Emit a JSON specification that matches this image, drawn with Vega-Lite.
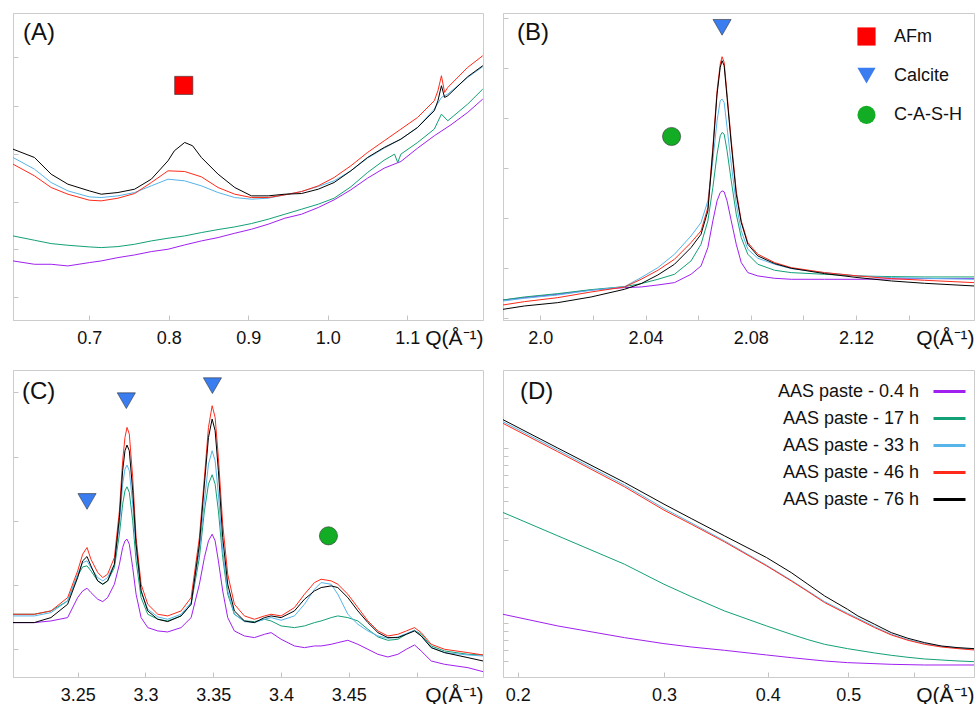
{
"$schema":"https://vega.github.io/schema/vega-lite/v6.json",
"padding":{"left":12,"top":12,"right":0,"bottom":0},
"config":{
"font":"Liberation Sans",
"view":{"stroke":"#cccccc","strokeWidth":1},
"axis":{"domainColor":"#cccccc","tickColor":"#c4c4c4","tickSize":-5,"grid":false,"labelFont":"Liberation Sans","labelFontSize":18,"labelColor":"#111111","labelFlush":false,"labelPadding":14,"titleFont":"Liberation Sans","titleFontSize":21,"titleFontWeight":"normal","titleColor":"#111111"},
"axisY":{"labels":false,"title":null},
"title":{"font":"Liberation Sans","fontSize":24,"fontWeight":"normal","color":"#111111","anchor":"start","frame":"group","baseline":"alphabetic"},
"legend":{"labelFont":"Liberation Sans","labelFontSize":18,"labelColor":"#111111","padding":0}
},
"datasets":{
"A":[
{"s":"0.4 h","q":0.604,"i":177},{"s":"0.4 h","q":0.631,"i":167},{"s":"0.4 h","q":0.652,"i":167},{"s":"0.4 h","q":0.673,"i":162},{"s":"0.4 h","q":0.7,"i":172},{"s":"0.4 h","q":0.715,"i":177},{"s":"0.4 h","q":0.736,"i":187},{"s":"0.4 h","q":0.757,"i":195},{"s":"0.4 h","q":0.778,"i":205},{"s":"0.4 h","q":0.799,"i":212},{"s":"0.4 h","q":0.82,"i":225},{"s":"0.4 h","q":0.841,"i":237},{"s":"0.4 h","q":0.862,"i":247},{"s":"0.4 h","q":0.883,"i":260},{"s":"0.4 h","q":0.904,"i":272},{"s":"0.4 h","q":0.925,"i":287},{"s":"0.4 h","q":0.946,"i":305},{"s":"0.4 h","q":0.967,"i":317},{"s":"0.4 h","q":0.988,"i":337},{"s":"0.4 h","q":1.008,"i":360},{"s":"0.4 h","q":1.029,"i":390},{"s":"0.4 h","q":1.05,"i":425},{"s":"0.4 h","q":1.071,"i":455},{"s":"0.4 h","q":1.092,"i":475},{"s":"0.4 h","q":1.113,"i":515},{"s":"0.4 h","q":1.134,"i":552},{"s":"0.4 h","q":1.155,"i":585},{"s":"0.4 h","q":1.176,"i":622},{"s":"0.4 h","q":1.195,"i":662},
{"s":"17 h","q":0.604,"i":252},{"s":"17 h","q":0.631,"i":239},{"s":"17 h","q":0.652,"i":229},{"s":"17 h","q":0.673,"i":224},{"s":"17 h","q":0.7,"i":219},{"s":"17 h","q":0.715,"i":217},{"s":"17 h","q":0.736,"i":220},{"s":"17 h","q":0.757,"i":227},{"s":"17 h","q":0.778,"i":237},{"s":"17 h","q":0.799,"i":245},{"s":"17 h","q":0.82,"i":252},{"s":"17 h","q":0.841,"i":262},{"s":"17 h","q":0.862,"i":271},{"s":"17 h","q":0.883,"i":279},{"s":"17 h","q":0.904,"i":289},{"s":"17 h","q":0.925,"i":302},{"s":"17 h","q":0.946,"i":317},{"s":"17 h","q":0.967,"i":332},{"s":"17 h","q":0.988,"i":347},{"s":"17 h","q":1.008,"i":365},{"s":"17 h","q":1.029,"i":399},{"s":"17 h","q":1.05,"i":442},{"s":"17 h","q":1.071,"i":479},{"s":"17 h","q":1.084,"i":497},{"s":"17 h","q":1.088,"i":472},{"s":"17 h","q":1.092,"i":497},{"s":"17 h","q":1.113,"i":532},{"s":"17 h","q":1.134,"i":572},{"s":"17 h","q":1.143,"i":617},{"s":"17 h","q":1.151,"i":597},{"s":"17 h","q":1.176,"i":647},{"s":"17 h","q":1.195,"i":692},
{"s":"33 h","q":0.604,"i":487},{"s":"33 h","q":0.631,"i":452},{"s":"33 h","q":0.652,"i":412},{"s":"33 h","q":0.673,"i":387},{"s":"33 h","q":0.7,"i":369},{"s":"33 h","q":0.715,"i":367},{"s":"33 h","q":0.736,"i":372},{"s":"33 h","q":0.757,"i":382},{"s":"33 h","q":0.778,"i":402},{"s":"33 h","q":0.799,"i":422},{"s":"33 h","q":0.82,"i":417},{"s":"33 h","q":0.841,"i":402},{"s":"33 h","q":0.862,"i":382},{"s":"33 h","q":0.883,"i":367},{"s":"33 h","q":0.904,"i":362},{"s":"33 h","q":0.925,"i":365},{"s":"33 h","q":0.946,"i":375},{"s":"33 h","q":0.967,"i":385},{"s":"33 h","q":0.988,"i":400},{"s":"33 h","q":1.008,"i":417},{"s":"33 h","q":1.029,"i":447},{"s":"33 h","q":1.05,"i":485},{"s":"33 h","q":1.071,"i":515},{"s":"33 h","q":1.092,"i":542},{"s":"33 h","q":1.113,"i":577},{"s":"33 h","q":1.134,"i":632},{"s":"33 h","q":1.143,"i":667},{"s":"33 h","q":1.151,"i":677},{"s":"33 h","q":1.176,"i":727},{"s":"33 h","q":1.195,"i":759},
{"s":"46 h","q":0.604,"i":467},{"s":"46 h","q":0.631,"i":432},{"s":"46 h","q":0.652,"i":397},{"s":"46 h","q":0.673,"i":377},{"s":"46 h","q":0.7,"i":359},{"s":"46 h","q":0.715,"i":357},{"s":"46 h","q":0.736,"i":365},{"s":"46 h","q":0.757,"i":379},{"s":"46 h","q":0.778,"i":412},{"s":"46 h","q":0.799,"i":447},{"s":"46 h","q":0.82,"i":445},{"s":"46 h","q":0.841,"i":429},{"s":"46 h","q":0.862,"i":397},{"s":"46 h","q":0.883,"i":377},{"s":"46 h","q":0.904,"i":367},{"s":"46 h","q":0.925,"i":367},{"s":"46 h","q":0.946,"i":375},{"s":"46 h","q":0.967,"i":385},{"s":"46 h","q":0.988,"i":402},{"s":"46 h","q":1.008,"i":427},{"s":"46 h","q":1.029,"i":462},{"s":"46 h","q":1.05,"i":502},{"s":"46 h","q":1.071,"i":537},{"s":"46 h","q":1.092,"i":572},{"s":"46 h","q":1.113,"i":607},{"s":"46 h","q":1.134,"i":657},{"s":"46 h","q":1.1386,"i":687},{"s":"46 h","q":1.143,"i":732},{"s":"46 h","q":1.147,"i":682},{"s":"46 h","q":1.151,"i":697},{"s":"46 h","q":1.176,"i":757},{"s":"46 h","q":1.195,"i":792},
{"s":"76 h","q":0.604,"i":512},{"s":"76 h","q":0.631,"i":487},{"s":"76 h","q":0.652,"i":437},{"s":"76 h","q":0.673,"i":407},{"s":"76 h","q":0.7,"i":387},{"s":"76 h","q":0.715,"i":377},{"s":"76 h","q":0.736,"i":382},{"s":"76 h","q":0.757,"i":392},{"s":"76 h","q":0.778,"i":422},{"s":"76 h","q":0.799,"i":477},{"s":"76 h","q":0.807,"i":507},{"s":"76 h","q":0.82,"i":532},{"s":"76 h","q":0.83,"i":522},{"s":"76 h","q":0.841,"i":487},{"s":"76 h","q":0.862,"i":437},{"s":"76 h","q":0.883,"i":397},{"s":"76 h","q":0.904,"i":372},{"s":"76 h","q":0.925,"i":372},{"s":"76 h","q":0.946,"i":377},{"s":"76 h","q":0.967,"i":379},{"s":"76 h","q":0.988,"i":392},{"s":"76 h","q":1.008,"i":412},{"s":"76 h","q":1.029,"i":447},{"s":"76 h","q":1.05,"i":487},{"s":"76 h","q":1.071,"i":517},{"s":"76 h","q":1.092,"i":542},{"s":"76 h","q":1.113,"i":577},{"s":"76 h","q":1.134,"i":627},{"s":"76 h","q":1.1386,"i":657},{"s":"76 h","q":1.143,"i":702},{"s":"76 h","q":1.147,"i":667},{"s":"76 h","q":1.151,"i":672},{"s":"76 h","q":1.176,"i":729},{"s":"76 h","q":1.195,"i":762}
],
"B":[
{"s":"0.4 h","q":1.9858,"i":60},{"s":"0.4 h","q":1.9939,"i":67},{"s":"0.4 h","q":2.0066,"i":77},{"s":"0.4 h","q":2.0193,"i":90},{"s":"0.4 h","q":2.032,"i":97},{"s":"0.4 h","q":2.0383,"i":99},{"s":"0.4 h","q":2.0447,"i":105},{"s":"0.4 h","q":2.051,"i":112},{"s":"0.4 h","q":2.0573,"i":137},{"s":"0.4 h","q":2.0611,"i":162},{"s":"0.4 h","q":2.0637,"i":217},{"s":"0.4 h","q":2.0656,"i":297},{"s":"0.4 h","q":2.0672,"i":357},{"s":"0.4 h","q":2.0684,"i":382},{"s":"0.4 h","q":2.0691,"i":387},{"s":"0.4 h","q":2.0699,"i":384},{"s":"0.4 h","q":2.071,"i":357},{"s":"0.4 h","q":2.0726,"i":297},{"s":"0.4 h","q":2.0745,"i":227},{"s":"0.4 h","q":2.0764,"i":172},{"s":"0.4 h","q":2.0789,"i":142},{"s":"0.4 h","q":2.0827,"i":132},{"s":"0.4 h","q":2.0891,"i":125},{"s":"0.4 h","q":2.0954,"i":122},{"s":"0.4 h","q":2.1081,"i":122},{"s":"0.4 h","q":2.1208,"i":122},{"s":"0.4 h","q":2.1335,"i":123},{"s":"0.4 h","q":2.1461,"i":124},{"s":"0.4 h","q":2.1649,"i":124},
{"s":"17 h","q":1.9858,"i":60},{"s":"17 h","q":1.9939,"i":69},{"s":"17 h","q":2.0066,"i":79},{"s":"17 h","q":2.0193,"i":91},{"s":"17 h","q":2.032,"i":100},{"s":"17 h","q":2.0383,"i":109},{"s":"17 h","q":2.0447,"i":122},{"s":"17 h","q":2.051,"i":137},{"s":"17 h","q":2.0573,"i":177},{"s":"17 h","q":2.0611,"i":227},{"s":"17 h","q":2.0637,"i":297},{"s":"17 h","q":2.0656,"i":397},{"s":"17 h","q":2.0672,"i":497},{"s":"17 h","q":2.0684,"i":552},{"s":"17 h","q":2.0691,"i":562},{"s":"17 h","q":2.0699,"i":557},{"s":"17 h","q":2.071,"i":507},{"s":"17 h","q":2.0726,"i":417},{"s":"17 h","q":2.0745,"i":317},{"s":"17 h","q":2.0764,"i":247},{"s":"17 h","q":2.0789,"i":197},{"s":"17 h","q":2.0827,"i":167},{"s":"17 h","q":2.0891,"i":149},{"s":"17 h","q":2.0954,"i":142},{"s":"17 h","q":2.1081,"i":137},{"s":"17 h","q":2.1208,"i":132},{"s":"17 h","q":2.1335,"i":130},{"s":"17 h","q":2.1461,"i":129},{"s":"17 h","q":2.1649,"i":129},
{"s":"33 h","q":1.9858,"i":57},{"s":"33 h","q":1.9939,"i":65},{"s":"33 h","q":2.0066,"i":75},{"s":"33 h","q":2.0193,"i":89},{"s":"33 h","q":2.032,"i":100},{"s":"33 h","q":2.0383,"i":127},{"s":"33 h","q":2.0447,"i":157},{"s":"33 h","q":2.051,"i":197},{"s":"33 h","q":2.0573,"i":252},{"s":"33 h","q":2.0611,"i":292},{"s":"33 h","q":2.0637,"i":357},{"s":"33 h","q":2.0656,"i":477},{"s":"33 h","q":2.0672,"i":597},{"s":"33 h","q":2.0684,"i":657},{"s":"33 h","q":2.0691,"i":662},{"s":"33 h","q":2.0699,"i":652},{"s":"33 h","q":2.071,"i":577},{"s":"33 h","q":2.0726,"i":467},{"s":"33 h","q":2.0745,"i":347},{"s":"33 h","q":2.0764,"i":267},{"s":"33 h","q":2.0789,"i":212},{"s":"33 h","q":2.0827,"i":185},{"s":"33 h","q":2.0891,"i":167},{"s":"33 h","q":2.0954,"i":154},{"s":"33 h","q":2.1081,"i":142},{"s":"33 h","q":2.1208,"i":132},{"s":"33 h","q":2.1335,"i":127},{"s":"33 h","q":2.1461,"i":125},{"s":"33 h","q":2.1649,"i":122},
{"s":"46 h","q":1.9858,"i":45},{"s":"46 h","q":1.9939,"i":55},{"s":"46 h","q":2.0066,"i":67},{"s":"46 h","q":2.0193,"i":84},{"s":"46 h","q":2.032,"i":99},{"s":"46 h","q":2.0383,"i":122},{"s":"46 h","q":2.0447,"i":149},{"s":"46 h","q":2.051,"i":182},{"s":"46 h","q":2.0573,"i":232},{"s":"46 h","q":2.0611,"i":267},{"s":"46 h","q":2.0637,"i":337},{"s":"46 h","q":2.0656,"i":517},{"s":"46 h","q":2.0672,"i":687},{"s":"46 h","q":2.0684,"i":767},{"s":"46 h","q":2.0691,"i":789},{"s":"46 h","q":2.0699,"i":772},{"s":"46 h","q":2.071,"i":677},{"s":"46 h","q":2.0726,"i":537},{"s":"46 h","q":2.0745,"i":387},{"s":"46 h","q":2.0764,"i":297},{"s":"46 h","q":2.0789,"i":232},{"s":"46 h","q":2.0827,"i":197},{"s":"46 h","q":2.0891,"i":172},{"s":"46 h","q":2.0954,"i":157},{"s":"46 h","q":2.1081,"i":142},{"s":"46 h","q":2.1208,"i":132},{"s":"46 h","q":2.1335,"i":124},{"s":"46 h","q":2.1461,"i":119},{"s":"46 h","q":2.1649,"i":112},
{"s":"76 h","q":1.9858,"i":32},{"s":"76 h","q":1.9939,"i":42},{"s":"76 h","q":2.0066,"i":52},{"s":"76 h","q":2.0193,"i":69},{"s":"76 h","q":2.032,"i":92},{"s":"76 h","q":2.0383,"i":109},{"s":"76 h","q":2.0447,"i":135},{"s":"76 h","q":2.051,"i":167},{"s":"76 h","q":2.0573,"i":217},{"s":"76 h","q":2.0611,"i":257},{"s":"76 h","q":2.0637,"i":327},{"s":"76 h","q":2.0656,"i":507},{"s":"76 h","q":2.0672,"i":677},{"s":"76 h","q":2.0684,"i":757},{"s":"76 h","q":2.0691,"i":777},{"s":"76 h","q":2.0699,"i":762},{"s":"76 h","q":2.071,"i":667},{"s":"76 h","q":2.0726,"i":527},{"s":"76 h","q":2.0745,"i":377},{"s":"76 h","q":2.0764,"i":292},{"s":"76 h","q":2.0789,"i":227},{"s":"76 h","q":2.0827,"i":192},{"s":"76 h","q":2.0891,"i":169},{"s":"76 h","q":2.0954,"i":155},{"s":"76 h","q":2.1081,"i":139},{"s":"76 h","q":2.1208,"i":127},{"s":"76 h","q":2.1335,"i":117},{"s":"76 h","q":2.1461,"i":110},{"s":"76 h","q":2.1649,"i":102}
],
"C":[
{"s":"0.4 h","q":3.2023,"i":163},{"s":"0.4 h","q":3.218,"i":163},{"s":"0.4 h","q":3.2303,"i":168},{"s":"0.4 h","q":3.2426,"i":178},{"s":"0.4 h","q":3.25,"i":238},{"s":"0.4 h","q":3.2537,"i":258},{"s":"0.4 h","q":3.2569,"i":266},{"s":"0.4 h","q":3.2598,"i":253},{"s":"0.4 h","q":3.2648,"i":233},{"s":"0.4 h","q":3.2685,"i":226},{"s":"0.4 h","q":3.2721,"i":238},{"s":"0.4 h","q":3.2771,"i":278},{"s":"0.4 h","q":3.2808,"i":338},{"s":"0.4 h","q":3.2832,"i":388},{"s":"0.4 h","q":3.2849,"i":408},{"s":"0.4 h","q":3.2864,"i":413},{"s":"0.4 h","q":3.2881,"i":398},{"s":"0.4 h","q":3.2906,"i":328},{"s":"0.4 h","q":3.2931,"i":248},{"s":"0.4 h","q":3.2968,"i":178},{"s":"0.4 h","q":3.3017,"i":148},{"s":"0.4 h","q":3.3091,"i":138},{"s":"0.4 h","q":3.3164,"i":135},{"s":"0.4 h","q":3.3263,"i":148},{"s":"0.4 h","q":3.3337,"i":178},{"s":"0.4 h","q":3.3398,"i":278},{"s":"0.4 h","q":3.3435,"i":358},{"s":"0.4 h","q":3.3465,"i":408},{"s":"0.4 h","q":3.3492,"i":428},{"s":"0.4 h","q":3.3514,"i":408},{"s":"0.4 h","q":3.3538,"i":348},{"s":"0.4 h","q":3.357,"i":258},{"s":"0.4 h","q":3.3607,"i":178},{"s":"0.4 h","q":3.3656,"i":138},{"s":"0.4 h","q":3.373,"i":123},{"s":"0.4 h","q":3.3804,"i":118},{"s":"0.4 h","q":3.3878,"i":128},{"s":"0.4 h","q":3.3927,"i":133},{"s":"0.4 h","q":3.4001,"i":113},{"s":"0.4 h","q":3.4099,"i":93},{"s":"0.4 h","q":3.4173,"i":88},{"s":"0.4 h","q":3.4247,"i":93},{"s":"0.4 h","q":3.4296,"i":93},{"s":"0.4 h","q":3.437,"i":98},{"s":"0.4 h","q":3.4419,"i":103},{"s":"0.4 h","q":3.4493,"i":110},{"s":"0.4 h","q":3.4567,"i":98},{"s":"0.4 h","q":3.4641,"i":83},{"s":"0.4 h","q":3.4715,"i":68},{"s":"0.4 h","q":3.4788,"i":60},{"s":"0.4 h","q":3.4862,"i":68},{"s":"0.4 h","q":3.4924,"i":83},{"s":"0.4 h","q":3.4985,"i":96},{"s":"0.4 h","q":3.5034,"i":78},{"s":"0.4 h","q":3.5108,"i":48},{"s":"0.4 h","q":3.5207,"i":38},{"s":"0.4 h","q":3.5379,"i":28},{"s":"0.4 h","q":3.549,"i":16},
{"s":"17 h","q":3.2023,"i":188},{"s":"17 h","q":3.218,"i":188},{"s":"17 h","q":3.2303,"i":198},{"s":"17 h","q":3.2426,"i":228},{"s":"17 h","q":3.25,"i":303},{"s":"17 h","q":3.2537,"i":330},{"s":"17 h","q":3.2569,"i":333},{"s":"17 h","q":3.2598,"i":318},{"s":"17 h","q":3.2648,"i":288},{"s":"17 h","q":3.2685,"i":278},{"s":"17 h","q":3.2721,"i":288},{"s":"17 h","q":3.2771,"i":328},{"s":"17 h","q":3.2808,"i":428},{"s":"17 h","q":3.2832,"i":518},{"s":"17 h","q":3.2849,"i":558},{"s":"17 h","q":3.2864,"i":570},{"s":"17 h","q":3.2881,"i":553},{"s":"17 h","q":3.2906,"i":468},{"s":"17 h","q":3.2931,"i":348},{"s":"17 h","q":3.2968,"i":238},{"s":"17 h","q":3.3017,"i":188},{"s":"17 h","q":3.3091,"i":173},{"s":"17 h","q":3.3164,"i":168},{"s":"17 h","q":3.3263,"i":183},{"s":"17 h","q":3.3337,"i":218},{"s":"17 h","q":3.3398,"i":358},{"s":"17 h","q":3.3435,"i":498},{"s":"17 h","q":3.3465,"i":578},{"s":"17 h","q":3.3492,"i":606},{"s":"17 h","q":3.3514,"i":578},{"s":"17 h","q":3.3538,"i":498},{"s":"17 h","q":3.357,"i":358},{"s":"17 h","q":3.3607,"i":248},{"s":"17 h","q":3.3656,"i":188},{"s":"17 h","q":3.373,"i":168},{"s":"17 h","q":3.3804,"i":166},{"s":"17 h","q":3.3878,"i":173},{"s":"17 h","q":3.3927,"i":168},{"s":"17 h","q":3.4001,"i":153},{"s":"17 h","q":3.4099,"i":148},{"s":"17 h","q":3.4173,"i":153},{"s":"17 h","q":3.4247,"i":163},{"s":"17 h","q":3.4296,"i":168},{"s":"17 h","q":3.437,"i":178},{"s":"17 h","q":3.4419,"i":183},{"s":"17 h","q":3.4493,"i":178},{"s":"17 h","q":3.4567,"i":168},{"s":"17 h","q":3.4641,"i":143},{"s":"17 h","q":3.4715,"i":120},{"s":"17 h","q":3.4788,"i":110},{"s":"17 h","q":3.4862,"i":113},{"s":"17 h","q":3.4924,"i":128},{"s":"17 h","q":3.4985,"i":140},{"s":"17 h","q":3.5034,"i":128},{"s":"17 h","q":3.5108,"i":93},{"s":"17 h","q":3.5207,"i":78},{"s":"17 h","q":3.5379,"i":68},{"s":"17 h","q":3.549,"i":66},
{"s":"33 h","q":3.2023,"i":183},{"s":"33 h","q":3.218,"i":183},{"s":"33 h","q":3.2303,"i":193},{"s":"33 h","q":3.2426,"i":228},{"s":"33 h","q":3.25,"i":308},{"s":"33 h","q":3.2537,"i":343},{"s":"33 h","q":3.2569,"i":348},{"s":"33 h","q":3.2598,"i":328},{"s":"33 h","q":3.2648,"i":298},{"s":"33 h","q":3.2685,"i":288},{"s":"33 h","q":3.2721,"i":298},{"s":"33 h","q":3.2771,"i":338},{"s":"33 h","q":3.2808,"i":458},{"s":"33 h","q":3.2832,"i":578},{"s":"33 h","q":3.2849,"i":623},{"s":"33 h","q":3.2864,"i":635},{"s":"33 h","q":3.2881,"i":618},{"s":"33 h","q":3.2906,"i":518},{"s":"33 h","q":3.2931,"i":378},{"s":"33 h","q":3.2968,"i":258},{"s":"33 h","q":3.3017,"i":203},{"s":"33 h","q":3.3091,"i":180},{"s":"33 h","q":3.3164,"i":173},{"s":"33 h","q":3.3263,"i":188},{"s":"33 h","q":3.3337,"i":223},{"s":"33 h","q":3.3398,"i":378},{"s":"33 h","q":3.3435,"i":528},{"s":"33 h","q":3.3465,"i":638},{"s":"33 h","q":3.3492,"i":678},{"s":"33 h","q":3.3514,"i":648},{"s":"33 h","q":3.3538,"i":548},{"s":"33 h","q":3.357,"i":378},{"s":"33 h","q":3.3607,"i":258},{"s":"33 h","q":3.3656,"i":188},{"s":"33 h","q":3.373,"i":166},{"s":"33 h","q":3.3804,"i":163},{"s":"33 h","q":3.3878,"i":173},{"s":"33 h","q":3.3927,"i":178},{"s":"33 h","q":3.4001,"i":170},{"s":"33 h","q":3.4099,"i":183},{"s":"33 h","q":3.4173,"i":218},{"s":"33 h","q":3.4247,"i":263},{"s":"33 h","q":3.4296,"i":283},{"s":"33 h","q":3.437,"i":278},{"s":"33 h","q":3.4419,"i":248},{"s":"33 h","q":3.4493,"i":188},{"s":"33 h","q":3.4567,"i":158},{"s":"33 h","q":3.4641,"i":138},{"s":"33 h","q":3.4715,"i":123},{"s":"33 h","q":3.4788,"i":116},{"s":"33 h","q":3.4862,"i":120},{"s":"33 h","q":3.4924,"i":130},{"s":"33 h","q":3.4985,"i":140},{"s":"33 h","q":3.5034,"i":123},{"s":"33 h","q":3.5108,"i":88},{"s":"33 h","q":3.5207,"i":73},{"s":"33 h","q":3.5379,"i":66},{"s":"33 h","q":3.549,"i":63},
{"s":"46 h","q":3.2023,"i":188},{"s":"46 h","q":3.218,"i":188},{"s":"46 h","q":3.2303,"i":198},{"s":"46 h","q":3.2426,"i":238},{"s":"46 h","q":3.25,"i":318},{"s":"46 h","q":3.2537,"i":368},{"s":"46 h","q":3.2569,"i":388},{"s":"46 h","q":3.2598,"i":353},{"s":"46 h","q":3.2648,"i":313},{"s":"46 h","q":3.2685,"i":298},{"s":"46 h","q":3.2721,"i":308},{"s":"46 h","q":3.2771,"i":358},{"s":"46 h","q":3.2808,"i":498},{"s":"46 h","q":3.2832,"i":648},{"s":"46 h","q":3.2849,"i":718},{"s":"46 h","q":3.2864,"i":748},{"s":"46 h","q":3.2881,"i":728},{"s":"46 h","q":3.2906,"i":598},{"s":"46 h","q":3.2931,"i":418},{"s":"46 h","q":3.2968,"i":278},{"s":"46 h","q":3.3017,"i":218},{"s":"46 h","q":3.3091,"i":188},{"s":"46 h","q":3.3164,"i":183},{"s":"46 h","q":3.3263,"i":198},{"s":"46 h","q":3.3337,"i":238},{"s":"46 h","q":3.3398,"i":418},{"s":"46 h","q":3.3435,"i":598},{"s":"46 h","q":3.3465,"i":748},{"s":"46 h","q":3.3492,"i":813},{"s":"46 h","q":3.3514,"i":778},{"s":"46 h","q":3.3538,"i":658},{"s":"46 h","q":3.357,"i":458},{"s":"46 h","q":3.3607,"i":308},{"s":"46 h","q":3.3656,"i":218},{"s":"46 h","q":3.373,"i":183},{"s":"46 h","q":3.3804,"i":173},{"s":"46 h","q":3.3878,"i":183},{"s":"46 h","q":3.3927,"i":188},{"s":"46 h","q":3.4001,"i":183},{"s":"46 h","q":3.4099,"i":208},{"s":"46 h","q":3.4173,"i":248},{"s":"46 h","q":3.4247,"i":283},{"s":"46 h","q":3.4296,"i":293},{"s":"46 h","q":3.437,"i":288},{"s":"46 h","q":3.4419,"i":278},{"s":"46 h","q":3.4493,"i":248},{"s":"46 h","q":3.4567,"i":208},{"s":"46 h","q":3.4641,"i":168},{"s":"46 h","q":3.4715,"i":138},{"s":"46 h","q":3.4788,"i":123},{"s":"46 h","q":3.4862,"i":128},{"s":"46 h","q":3.4924,"i":138},{"s":"46 h","q":3.4985,"i":148},{"s":"46 h","q":3.5034,"i":133},{"s":"46 h","q":3.5108,"i":98},{"s":"46 h","q":3.5207,"i":83},{"s":"46 h","q":3.5379,"i":73},{"s":"46 h","q":3.549,"i":66},
{"s":"76 h","q":3.2023,"i":163},{"s":"76 h","q":3.218,"i":163},{"s":"76 h","q":3.2303,"i":178},{"s":"76 h","q":3.2426,"i":218},{"s":"76 h","q":3.25,"i":298},{"s":"76 h","q":3.2537,"i":348},{"s":"76 h","q":3.2569,"i":361},{"s":"76 h","q":3.2598,"i":333},{"s":"76 h","q":3.2648,"i":288},{"s":"76 h","q":3.2685,"i":278},{"s":"76 h","q":3.2721,"i":288},{"s":"76 h","q":3.2771,"i":338},{"s":"76 h","q":3.2808,"i":478},{"s":"76 h","q":3.2832,"i":618},{"s":"76 h","q":3.2849,"i":678},{"s":"76 h","q":3.2864,"i":695},{"s":"76 h","q":3.2881,"i":678},{"s":"76 h","q":3.2906,"i":558},{"s":"76 h","q":3.2931,"i":398},{"s":"76 h","q":3.2968,"i":258},{"s":"76 h","q":3.3017,"i":198},{"s":"76 h","q":3.3091,"i":173},{"s":"76 h","q":3.3164,"i":166},{"s":"76 h","q":3.3263,"i":183},{"s":"76 h","q":3.3337,"i":218},{"s":"76 h","q":3.3398,"i":398},{"s":"76 h","q":3.3435,"i":578},{"s":"76 h","q":3.3465,"i":718},{"s":"76 h","q":3.3492,"i":773},{"s":"76 h","q":3.3514,"i":738},{"s":"76 h","q":3.3538,"i":618},{"s":"76 h","q":3.357,"i":418},{"s":"76 h","q":3.3607,"i":278},{"s":"76 h","q":3.3656,"i":198},{"s":"76 h","q":3.373,"i":168},{"s":"76 h","q":3.3804,"i":163},{"s":"76 h","q":3.3878,"i":178},{"s":"76 h","q":3.3927,"i":183},{"s":"76 h","q":3.4001,"i":178},{"s":"76 h","q":3.4099,"i":198},{"s":"76 h","q":3.4173,"i":233},{"s":"76 h","q":3.4247,"i":258},{"s":"76 h","q":3.4296,"i":268},{"s":"76 h","q":3.437,"i":273},{"s":"76 h","q":3.4419,"i":268},{"s":"76 h","q":3.4493,"i":238},{"s":"76 h","q":3.4567,"i":198},{"s":"76 h","q":3.4641,"i":163},{"s":"76 h","q":3.4715,"i":133},{"s":"76 h","q":3.4788,"i":118},{"s":"76 h","q":3.4862,"i":118},{"s":"76 h","q":3.4924,"i":128},{"s":"76 h","q":3.4985,"i":138},{"s":"76 h","q":3.5034,"i":123},{"s":"76 h","q":3.5108,"i":88},{"s":"76 h","q":3.5207,"i":73},{"s":"76 h","q":3.5379,"i":58},{"s":"76 h","q":3.549,"i":48}
],
"D":[
{"s":"0.4 h","q":0.192,"i":1.117},{"s":"0.4 h","q":0.2235,"i":0.9573},{"s":"0.4 h","q":0.2689,"i":0.8203},{"s":"0.4 h","q":0.3,"i":0.7578},{"s":"0.4 h","q":0.3235,"i":0.725},{"s":"0.4 h","q":0.3548,"i":0.6938},{"s":"0.4 h","q":0.3987,"i":0.6523},{"s":"0.4 h","q":0.4269,"i":0.6296},{"s":"0.4 h","q":0.4683,"i":0.6025},{"s":"0.4 h","q":0.499,"i":0.5894},{"s":"0.4 h","q":0.5634,"i":0.5765},{"s":"0.4 h","q":0.618,"i":0.5714},{"s":"0.4 h","q":0.7087,"i":0.5714},
{"s":"17 h","q":0.192,"i":4.289},{"s":"17 h","q":0.2235,"i":3.15},{"s":"17 h","q":0.2689,"i":2.165},{"s":"17 h","q":0.3,"i":1.6615},{"s":"17 h","q":0.3235,"i":1.4113},{"s":"17 h","q":0.3548,"i":1.1675},{"s":"17 h","q":0.3987,"i":0.9573},{"s":"17 h","q":0.4269,"i":0.8574},{"s":"17 h","q":0.4471,"i":0.7988},{"s":"17 h","q":0.4683,"i":0.7511},{"s":"17 h","q":0.499,"i":0.7092},{"s":"17 h","q":0.5136,"i":0.6938},{"s":"17 h","q":0.538,"i":0.6698},{"s":"17 h","q":0.5634,"i":0.6494},{"s":"17 h","q":0.5901,"i":0.6324},{"s":"17 h","q":0.618,"i":0.6186},{"s":"17 h","q":0.6472,"i":0.6105},{"s":"17 h","q":0.6778,"i":0.6025},{"s":"17 h","q":0.7087,"i":0.5972},
{"s":"33 h","q":0.192,"i":14.24},{"s":"33 h","q":0.2235,"i":9.786},{"s":"33 h","q":0.2689,"i":6.158},{"s":"33 h","q":0.3,"i":4.522},{"s":"33 h","q":0.3235,"i":3.741},{"s":"33 h","q":0.3548,"i":2.948},{"s":"33 h","q":0.3987,"i":2.1365},{"s":"33 h","q":0.4269,"i":1.7518},{"s":"33 h","q":0.4471,"i":1.5212},{"s":"33 h","q":0.4683,"i":1.321},{"s":"33 h","q":0.499,"i":1.1317},{"s":"33 h","q":0.5136,"i":1.0595},{"s":"33 h","q":0.538,"i":0.9489},{"s":"33 h","q":0.5634,"i":0.8574},{"s":"33 h","q":0.5901,"i":0.7988},{"s":"33 h","q":0.618,"i":0.7578},{"s":"33 h","q":0.6472,"i":0.7314},{"s":"33 h","q":0.6778,"i":0.7154},{"s":"33 h","q":0.7087,"i":0.703},
{"s":"46 h","q":0.192,"i":13.93},{"s":"46 h","q":0.2235,"i":9.573},{"s":"46 h","q":0.2689,"i":6.025},{"s":"46 h","q":0.3,"i":4.424},{"s":"46 h","q":0.3235,"i":3.676},{"s":"46 h","q":0.3548,"i":2.909},{"s":"46 h","q":0.3987,"i":2.118},{"s":"46 h","q":0.4269,"i":1.736},{"s":"46 h","q":0.4471,"i":1.508},{"s":"46 h","q":0.4683,"i":1.3035},{"s":"46 h","q":0.499,"i":1.117},{"s":"46 h","q":0.5136,"i":1.0456},{"s":"46 h","q":0.538,"i":0.9364},{"s":"46 h","q":0.5634,"i":0.85},{"s":"46 h","q":0.5901,"i":0.7918},{"s":"46 h","q":0.618,"i":0.7511},{"s":"46 h","q":0.6472,"i":0.725},{"s":"46 h","q":0.6778,"i":0.7092},{"s":"46 h","q":0.7087,"i":0.6968},
{"s":"76 h","q":0.192,"i":14.62},{"s":"76 h","q":0.2235,"i":10.05},{"s":"76 h","q":0.2689,"i":6.38},{"s":"76 h","q":0.3,"i":4.789},{"s":"76 h","q":0.3235,"i":3.962},{"s":"76 h","q":0.3548,"i":3.15},{"s":"76 h","q":0.3987,"i":2.3645},{"s":"76 h","q":0.4269,"i":1.9388},{"s":"76 h","q":0.4471,"i":1.6615},{"s":"76 h","q":0.4683,"i":1.4238},{"s":"76 h","q":0.499,"i":1.1935},{"s":"76 h","q":0.5136,"i":1.0927},{"s":"76 h","q":0.538,"i":0.9786},{"s":"76 h","q":0.5634,"i":0.8765},{"s":"76 h","q":0.5901,"i":0.8131},{"s":"76 h","q":0.618,"i":0.7678},{"s":"76 h","q":0.6472,"i":0.7347},{"s":"76 h","q":0.6778,"i":0.7186},{"s":"76 h","q":0.7087,"i":0.7092}
],
"M":[
{"panel":"A","phase":"AFm","q":0.8188,"i":703},
{"panel":"B","phase":"Calcite","q":2.0691,"i":877},
{"panel":"B","phase":"C-A-S-H","q":2.0499,"i":550},
{"panel":"C","phase":"Calcite","q":3.2569,"i":526},
{"panel":"C","phase":"Calcite","q":3.2859,"i":828},
{"panel":"C","phase":"Calcite","q":3.3494,"i":873},
{"panel":"C","phase":"C-A-S-H","q":3.435,"i":423}
]
},
"columns":2,
"spacing":{"row":50,"column":20},
"bounds":"flush",
"resolve":{"scale":{"x":"independent","y":"independent","stroke":"independent","fill":"independent","shape":"independent"},"legend":{"stroke":"independent","fill":"independent","shape":"independent"}},
"concat":[
{"width":470,"height":307,
"title":{"text":"(A)","offset":-32,"dx":10},
"layer":[
{"data":{"name":"A"},"mark":{"type":"line","strokeWidth":1,"clip":true},
"encoding":{
"x":{"field":"q","type":"quantitative","scale":{"domain":[0.604,1.1953],"nice":false,"zero":false},"axis":{"values":[0.7,0.8,0.9,1.0,1.1],"format":".1f","title":"Q(Å⁻¹)","titleX":470,"titleY":24,"titleAlign":"right","titleBaseline":"alphabetic"}},
"y":{"field":"i","type":"quantitative","scale":{"domain":[0,920],"nice":false,"zero":false},"axis":{"values":[69,212,354,498,642,787]}},
"stroke":{"field":"s","type":"nominal","scale":{"domain":["0.4 h","17 h","33 h","46 h","76 h"],"range":["#a020f0","#13a077","#56b4e9","#ff2a1a","#000000"]},"legend":null}}},
{"data":{"name":"M"},"transform":[{"filter":"datum.panel === 'A'"}],"mark":{"type":"point","filled":true,"size":330,"stroke":"#333333","strokeWidth":0.6,"opacity":1},
"encoding":{
"x":{"field":"q","type":"quantitative"},
"y":{"field":"i","type":"quantitative"},
"fill":{"field":"phase","type":"nominal","scale":{"domain":["AFm","Calcite","C-A-S-H"],"range":["#ff0000","#3a7df0","#12ad25"]},"legend":null},
"shape":{"field":"phase","type":"nominal","scale":{"domain":["AFm","Calcite","C-A-S-H"],"range":["square","triangle-down","circle"]},"legend":null}}}
]},
{"width":471,"height":307,
"title":{"text":"(B)","offset":-32,"dx":14},
"layer":[
{"data":{"name":"B"},"mark":{"type":"line","strokeWidth":1,"clip":true},
"encoding":{
"x":{"field":"q","type":"quantitative","scale":{"domain":[1.9858,2.1649],"nice":false,"zero":false},"axis":{"values":[2.0,2.02,2.04,2.06,2.08,2.1,2.12,2.14],"labelExpr":"round(datum.value*100) % 4 == 0 ? (round(datum.value*100) == 200 ? '2.0' : format(datum.value, '.2f')) : ''","title":"Q(Å⁻¹)","titleX":471,"titleY":24,"titleAlign":"right","titleBaseline":"alphabetic"}},
"y":{"field":"i","type":"quantitative","scale":{"domain":[0,920],"nice":false,"zero":false},"axis":{"values":[7,157,307,455,605,754,905]}},
"stroke":{"field":"s","type":"nominal","scale":{"domain":["0.4 h","17 h","33 h","46 h","76 h"],"range":["#a020f0","#13a077","#56b4e9","#ff2a1a","#000000"]},"legend":null}}},
{"data":{"name":"M"},"transform":[{"filter":"datum.panel === 'B'"}],"mark":{"type":"point","filled":true,"size":330,"stroke":"#333333","strokeWidth":0.6,"opacity":1},
"encoding":{
"x":{"field":"q","type":"quantitative"},
"y":{"field":"i","type":"quantitative"},
"fill":{"field":"phase","type":"nominal","scale":{"domain":["AFm","Calcite","C-A-S-H"],"range":["#ff0000","#3a7df0","#12ad25"]},"legend":{"orient":"none","legendX":354,"legendY":14,"title":null,"symbolSize":330,"rowPadding":19.2,"labelOffset":18,"padding":0,"symbolStrokeColor":"#333333","symbolStrokeWidth":0.6,"labelFontSize":18}},
"shape":{"field":"phase","type":"nominal","scale":{"domain":["AFm","Calcite","C-A-S-H"],"range":["square","triangle-down","circle"]},"legend":{"orient":"none","legendX":354,"legendY":14,"title":null,"symbolSize":330,"rowPadding":19.2,"labelOffset":18,"padding":0,"symbolStrokeColor":"#333333","symbolStrokeWidth":0.6,"labelFontSize":18}}}}
]},
{"width":470,"height":307,
"title":{"text":"(C)","offset":-34,"dx":9},
"layer":[
{"data":{"name":"C"},"mark":{"type":"line","strokeWidth":1,"clip":true},
"encoding":{
"x":{"field":"q","type":"quantitative","scale":{"domain":[3.2023,3.549],"nice":false,"zero":false},"axis":{"values":[3.25,3.3,3.35,3.4,3.45,3.5],"labelExpr":"datum.value > 3.47 ? '' : format(datum.value, '~g')","title":"Q(Å⁻¹)","titleX":470,"titleY":24,"titleAlign":"right","titleBaseline":"alphabetic"}},
"y":{"field":"i","type":"quantitative","scale":{"domain":[0,920],"nice":false,"zero":false},"axis":{"values":[85,180,276,372,468,564,660,756,853]}},
"stroke":{"field":"s","type":"nominal","scale":{"domain":["0.4 h","17 h","33 h","46 h","76 h"],"range":["#a020f0","#13a077","#56b4e9","#ff2a1a","#000000"]},"legend":null}}},
{"data":{"name":"M"},"transform":[{"filter":"datum.panel === 'C'"}],"mark":{"type":"point","filled":true,"size":330,"stroke":"#333333","strokeWidth":0.6,"opacity":1},
"encoding":{
"x":{"field":"q","type":"quantitative"},
"y":{"field":"i","type":"quantitative"},
"fill":{"field":"phase","type":"nominal","scale":{"domain":["AFm","Calcite","C-A-S-H"],"range":["#ff0000","#3a7df0","#12ad25"]},"legend":null},
"shape":{"field":"phase","type":"nominal","scale":{"domain":["AFm","Calcite","C-A-S-H"],"range":["square","triangle-down","circle"]},"legend":null}}}
]},
{"width":471,"height":307,
"title":{"text":"(D)","offset":-34,"dx":17},
"data":{"name":"D"},
"mark":{"type":"line","strokeWidth":1,"clip":true},
"encoding":{
"x":{"field":"q","type":"quantitative","scale":{"type":"log","domain":[0.192,0.7087],"nice":false},"axis":{"values":[0.2,0.3,0.4,0.5,0.6],"labelExpr":"datum.value > 0.55 ? '' : format(datum.value, '.1f')","title":"Q(Å⁻¹)","titleX":471,"titleY":24,"titleAlign":"right","titleBaseline":"alphabetic"}},
"y":{"field":"i","type":"quantitative","scale":{"type":"log","domain":[0.4875,28.2],"nice":false},"axis":{"values":[0.6,0.7,0.8,0.9,1,2,3,4,5,6,7,8,9,10]}},
"stroke":{"field":"s","type":"nominal","scale":{"domain":["0.4 h","17 h","33 h","46 h","76 h"],"range":["#a020f0","#13a077","#56b4e9","#ff2a1a","#000000"]},"legend":{"orient":"none","legendX":429,"legendY":4,"title":null,"symbolType":"stroke","symbolSize":1024,"symbolStrokeWidth":3,"labelAlign":"right","labelOffset":-48,"rowPadding":-2.6,"padding":0,"labelFontSize":18,"labelExpr":"'AAS paste - ' + datum.label"}}}
}
]
}
